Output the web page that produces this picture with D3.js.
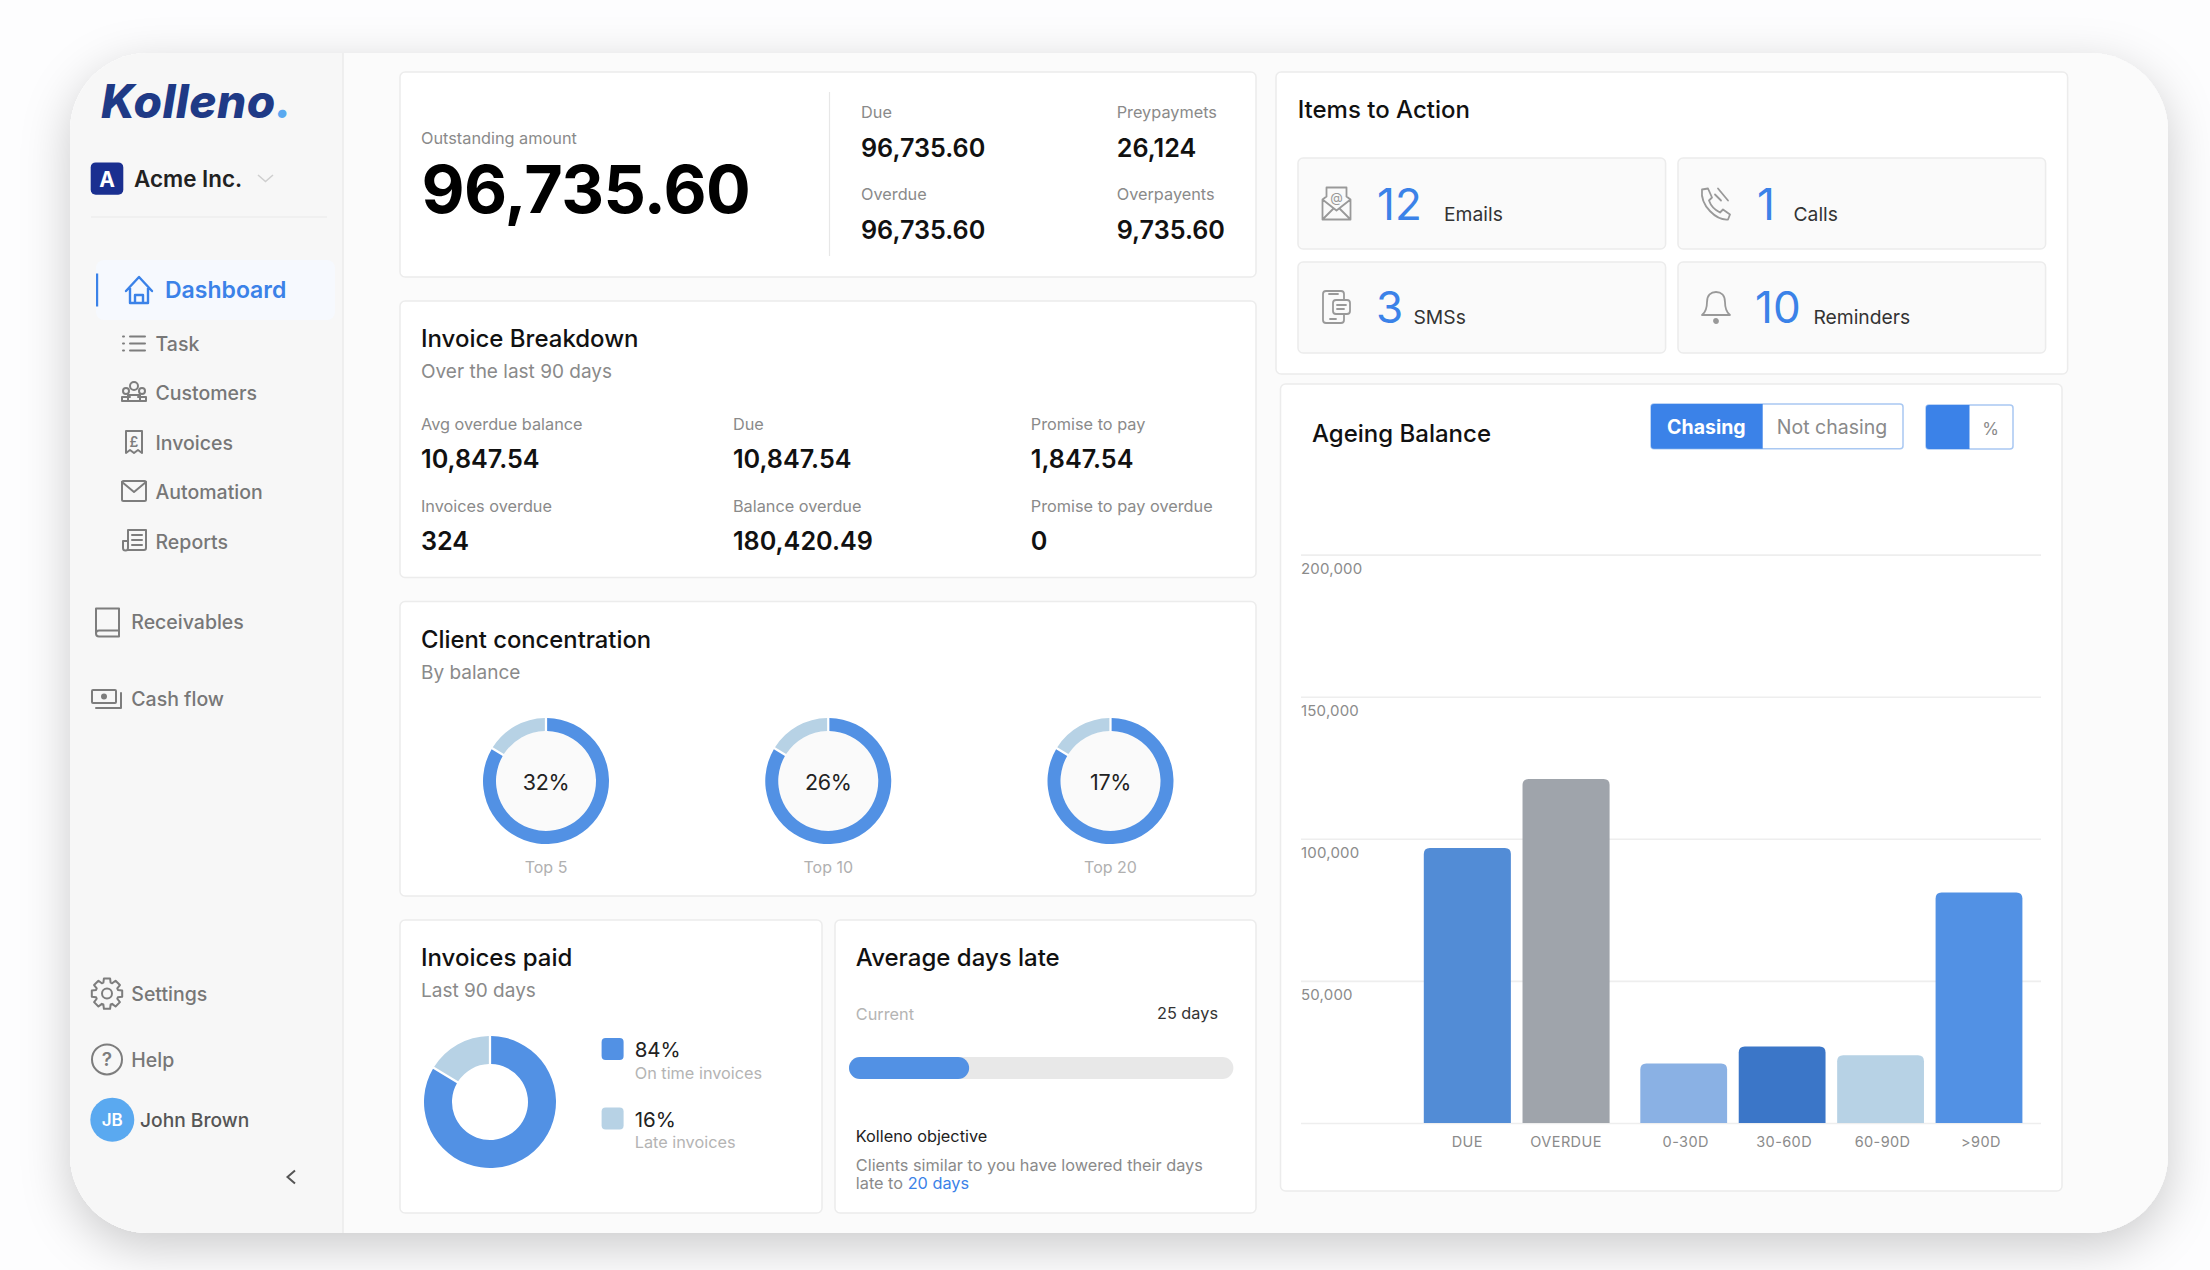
<!DOCTYPE html>
<html><head><meta charset="utf-8"><title>Kolleno dashboard</title>
<script src="https://cdnjs.cloudflare.com/ajax/libs/d3/7.8.5/d3.min.js"></script>
<style>html,body{margin:0;padding:0;background:#fdfdfe}svg{display:block}text{font-family:Inter,"Noto Sans",sans-serif}</style>
</head><body><div id="app"></div>
<script>
// ---------- data ----------
const ageingCategoriesA = ["DUE","OVERDUE"];
const ageingValuesA = [96735,121000];
const ageingCategoriesB = ["0-30D","30-60D","60-90D",">90D"];
const ageingValuesB = [20900,26900,23800,81100];
const ageingTicks = [0,50000,100000,150000,200000];
const navLabels = ["Task","Customers","Invoices","Automation","Reports"];
const concentrationLabels = ["Top 5","Top 10","Top 20"];
const concentrationTexts = ["32%","26%","17%"];
const ringShares = [84,16];
const paidShares = [84,16];
const paidLegendPct = ["84%","16%"];
const paidLegendText = ["On time invoices","Late invoices"];
const summaryLabels = ["Due","Preypaymets","Overdue","Overpayents"];
const summaryValues = ["96,735.60","26,124","96,735.60","9,735.60"];
const breakdownLabels = ["Avg overdue balance","Due","Promise to pay","Invoices overdue","Balance overdue","Promise to pay overdue"];
const breakdownValues = ["10,847.54","10,847.54","1,847.54","324","180,420.49","0"];
const actionCounts = ["12","1","3","10"];
const actionLabels = ["Emails","Calls","SMSs","Reminders"];
const daysLateCurrent = [25];
const daysLateMax = 80;

// ---------- palette ----------
const BLUE="#5291e4", LIGHT="#b7d2e5", ACC="#3b82e8", GREY="#8a8a8a", PALE="#b4b4b4", INK="#111";
const ageingColorsA=["#528cd6","#9fa4ab"], ageingColorsB=["#8ab1e4","#3b76c8","#b7d2e5","#5291e4"];

const svg=d3.select("#app").append("svg").attr("width",2210).attr("height",1270).attr("viewBox","0 0 2210 1270");
const defs=svg.append("defs");
const f=defs.append("filter").attr("id","sh").attr("x","-10%").attr("y","-10%").attr("width","120%").attr("height","125%");
f.append("feDropShadow").attr("dx",0).attr("dy",14).attr("stdDeviation",24).attr("flood-color","#000").attr("flood-opacity",.2);
const c=defs.append("clipPath").attr("id","shell");
c.append("rect").attr("x",70).attr("y",53).attr("width",2098).attr("height",1180).attr("rx",78);

function T(p,x,y,s,o={}){const t=p.append("text").attr("x",x).attr("y",y).text(s)
  .attr("font-size",o.size||16.3).attr("font-weight",o.weight||400).attr("fill",o.fill||GREY)
  .attr("text-anchor",o.anchor||"start");
  if(o.ls!==undefined)t.attr("letter-spacing",o.ls); if(o.style)t.attr("font-style",o.style); return t;}
function card(p,x,y,x2,y2,o={}){return p.append("rect").attr("x",x).attr("y",y).attr("width",x2-x).attr("height",y2-y)
  .attr("rx",o.r||5).attr("fill",o.fill||"#fff").attr("stroke",o.stroke||"#ececec").attr("stroke-width",1.5);}

// shell
svg.append("rect").attr("x",70).attr("y",53).attr("width",2098).attr("height",1180).attr("rx",78).attr("fill","#fbfbfb").attr("filter","url(#sh)");
const root=svg.append("g").attr("clip-path","url(#shell)");
root.append("rect").attr("x",70).attr("y",53).attr("width",2098).attr("height",1180).attr("fill","#fbfbfb");
root.append("rect").attr("x",70).attr("y",53).attr("width",273).attr("height",1180).attr("fill","#f7f7f7");
root.append("line").attr("x1",343).attr("x2",343).attr("y1",53).attr("y2",1233).attr("stroke","#ebebeb").attr("stroke-width",1.5);

// ---------- sidebar ----------
const side=svg.append("g");
const logo=T(side,101,117.5,"Kolleno",{size:46,weight:800,fill:"#1f3a86",style:"italic",ls:.4});
logo.append("tspan").text(".").attr("fill","#5aa9f0");
side.append("rect").attr("x",90.7).attr("y",162.4).attr("width",32.6).attr("height",32.3).attr("rx",5).attr("fill","#1a2f90");
T(side,107,186.5,"A",{size:21,weight:700,fill:"#fff",anchor:"middle"});
T(side,134,187,"Acme Inc.",{size:22.4,weight:600,fill:"#222"});
side.append("path").attr("d","M258,175 L265.5,181.5 L273,175").attr("fill","none").attr("stroke","#cfcfcf").attr("stroke-width",1.6);
side.append("line").attr("x1",91).attr("x2",327).attr("y1",217).attr("y2",217).attr("stroke","#e9e9e9").attr("stroke-width",1.2);
side.append("rect").attr("x",96).attr("y",260).attr("width",239).attr("height",60).attr("rx",8).attr("fill","#f6f9fe");
side.append("rect").attr("x",96).attr("y",273.5).attr("width",2.2).attr("height",33).attr("fill",ACC);
T(side,165,298,"Dashboard",{size:23,weight:600,fill:ACC});

const icon=(x,y,col="#7d7d7d",w=2)=>side.append("g").attr("transform",`translate(${x},${y})`).attr("fill","none").attr("stroke",col).attr("stroke-width",w).attr("stroke-linejoin","round").attr("stroke-linecap","round");
// house
let g=icon(139,290,ACC,2.4);
g.append("path").attr("d","M-13,1 L0,-13 L13,1 M-9,-2 V13 H9 V-2 M-4,13 V5 H4 V13");
// nav items
const navY=d3.scalePoint().domain(navLabels).range([351,548.8]);
navLabels.forEach(n=>T(side,155.5,navY(n),n,{size:19.5,weight:500,fill:"#777"}));
g=icon(134,343.6);
g.append("path").attr("d","M-4,-7 H11 M-4,0 H11 M-4,7 H11 M-11,-7 h1 M-11,0 h1 M-11,7 h1");
g=icon(134,392);
g.append("circle").attr("cy",-6).attr("r",4);g.append("circle").attr("cx",-8).attr("cy",-1).attr("r",3);g.append("circle").attr("cx",8).attr("cy",-1).attr("r",3);
g.append("path").attr("d","M-12,9 V5 H-4 M12,9 V5 H4 M-6,9 V3 H6 V9 M-12,9 H12");
g=icon(134,442);
g.append("path").attr("d","M-8,-11 H8 V11 L4,8 L0,11 L-4,8 L-8,11 Z");
T(g,0,5,"£",{size:14,weight:600,fill:"#7d7d7d",anchor:"middle"}).attr("stroke","none");
g=icon(134,491);
g.append("rect").attr("x",-12).attr("y",-10).attr("width",24).attr("height",20).attr("rx",1.5);
g.append("path").attr("d","M-12,-9 L0,1 L12,-9");
g=icon(134,540);
g.append("path").attr("d","M-6,10 H10 a2,2 0 0 0 2,-2 V-10 H-6 V8 a2.5,2.5 0 0 1 -5,0 V1 H-6 M-2,-5 H8 M-2,0 H8 M-2,5 H8");

T(side,131.3,629.4,"Receivables",{size:19.5,weight:500,fill:"#777"});
g=icon(107,622.5);
g.append("path").attr("d","M-11,11 V-14 H12 V14 H-8 a3,3 0 0 1 -3,-3 a3,3 0 0 1 3,-3 H12");
T(side,131.3,705.5,"Cash flow",{size:19.5,weight:500,fill:"#777"});
g=icon(107,699);
g.append("rect").attr("x",-15).attr("y",-9).attr("width",24).attr("height",13).attr("rx",1);
g.append("circle").attr("cx",-3).attr("cy",-2.5).attr("r",2).attr("fill","#7d7d7d");
g.append("path").attr("d","M-11,9 H14 V-6");
T(side,131.3,1000.8,"Settings",{size:19.5,weight:500,fill:"#777"});
g=icon(107,993.6);
const gear=d3.range(0,8).flatMap(i=>{const a=i*Math.PI/4,s=.2;return [[a-s*1.6,11.5],[a-s,15.5],[a+s,15.5],[a+s*1.6,11.5]];});
g.append("path").attr("d",d3.lineRadial().curve(d3.curveLinearClosed)(gear));
g.append("circle").attr("r",5);
T(side,131.3,1066.7,"Help",{size:19.5,weight:500,fill:"#777"});
g=icon(107,1059.4);
g.append("circle").attr("r",15);
T(g,0,7,"?",{size:19,weight:600,fill:"#7d7d7d",anchor:"middle"}).attr("stroke","none");
side.append("circle").attr("cx",112.3).attr("cy",1119.7).attr("r",22).attr("fill","#5aa9f0");
T(side,112.3,1126,"JB",{size:17,weight:600,fill:"#fff",anchor:"middle"});
T(side,140,1127,"John Brown",{size:19.2,weight:500,fill:"#555"});
side.append("path").attr("d","M295,1170.5 L287.5,1177 L295,1183.5").attr("fill","none").attr("stroke","#555").attr("stroke-width",2);

// ---------- top-left summary ----------
const m=svg.append("g");
card(m,400,72,1256,277);
T(m,421,144.2,"Outstanding amount",{});
T(m,421.4,212.5,"96,735.60",{size:66.4,weight:700,fill:"#000",ls:-.6});
m.append("line").attr("x1",829.5).attr("x2",829.5).attr("y1",92).attr("y2",256).attr("stroke","#e7e7e7").attr("stroke-width",1.2);
const sumX=[861,1116.7];
summaryLabels.forEach((l,i)=>{const x=sumX[i%2],r=Math.floor(i/2);
  T(m,x,r?200:118,l,{});
  T(m,x,r?238.7:156.7,summaryValues[i],{size:25.2,weight:600,fill:"#111"});});

// ---------- invoice breakdown ----------
card(m,400,301,1256,577.5);
T(m,421,346.5,"Invoice Breakdown",{size:24,weight:500,fill:INK});
T(m,421,377.8,"Over the last 90 days",{size:19});
const brX=[421,732.9,1030.8];
breakdownLabels.forEach((l,i)=>{const x=brX[i%3],r=Math.floor(i/3);
  T(m,x,r?512:430,l,{});
  T(m,x,r?550.4:468,breakdownValues[i],{size:25.2,weight:600,fill:"#111"});});

// ---------- client concentration ----------
card(m,400,601.5,1256,896);
T(m,421,647.5,"Client concentration",{size:23.8,weight:500,fill:INK});
T(m,421,678.5,"By balance",{size:19});
const conX=d3.scalePoint().domain(concentrationLabels).range([546,1110.5]);
const pie=d3.pie().sort(null).padAngle(.028);
const ringArc=d3.arc().innerRadius(50).outerRadius(63);
concentrationLabels.forEach((l,i)=>{
  const gg=m.append("g").attr("transform",`translate(${conX(l)},781)`);
  gg.append("circle").attr("r",50).attr("fill","#fafafa");
  gg.selectAll("path").data(pie(ringShares)).join("path").attr("d",ringArc).attr("fill",(d,j)=>j?LIGHT:BLUE);
  T(gg,0,8.5,concentrationTexts[i],{size:21.5,weight:400,fill:"#222",anchor:"middle",ls:-.4});
  T(gg,0,91.5,l,{size:16,fill:"#b0b0b0",anchor:"middle"});
});

// ---------- invoices paid ----------
card(m,400,920,822,1213);
T(m,421,965.5,"Invoices paid",{size:24,weight:500,fill:INK});
T(m,421,997,"Last 90 days",{size:19});
const paidG=m.append("g").attr("transform","translate(490,1102)");
const paidArc=d3.arc().innerRadius(38).outerRadius(66);
paidG.selectAll("path").data(d3.pie().sort(null).padAngle(.03)(paidShares)).join("path").attr("d",paidArc).attr("fill",(d,j)=>j?LIGHT:BLUE);
const legY=d3.scalePoint().domain(paidLegendText).range([1049,1118.5]);
paidLegendText.forEach((l,i)=>{const y=legY(l);
  m.append("rect").attr("x",601.6).attr("y",y-11).attr("width",22).attr("height",22).attr("rx",4).attr("fill",i?LIGHT:BLUE);
  T(m,634.7,y+8,paidLegendPct[i],{size:20.5,fill:"#222"});
  T(m,634.7,y+29.5,l,{fill:PALE});
});

// ---------- average days late ----------
card(m,835,920,1256,1213);
T(m,855.8,965.5,"Average days late",{size:24,weight:500,fill:INK});
T(m,855.8,1020,"Current",{fill:PALE});
T(m,1218,1018.6,daysLateCurrent[0]+" days",{fill:"#333",anchor:"end"});
const pX=d3.scaleLinear().domain([0,daysLateMax]).range([849,1233.4]);
m.append("rect").attr("x",pX(0)).attr("y",1057).attr("width",pX(daysLateMax)-pX(0)).attr("height",22).attr("rx",11).attr("fill","#e8e8e8");
m.selectAll(".pb").data(daysLateCurrent).join("rect").attr("class","pb").attr("x",pX(0)).attr("y",1057).attr("width",d=>pX(d)-pX(0)).attr("height",22).attr("rx",11).attr("fill",BLUE);
T(m,855.8,1142,"Kolleno objective",{fill:"#222"});
T(m,855.8,1171,"Clients similar to you have lowered their days",{fill:GREY});
const lt=T(m,855.8,1189,"late to ",{fill:GREY});
lt.append("tspan").text("20 days").attr("fill",ACC);

// ---------- items to action ----------
card(m,1276,72,2067.6,374);
T(m,1297.7,117.7,"Items to Action",{size:24,weight:500,fill:INK});
const boxX=[1298,1678],boxY=[158,262];
const numX=[1377,1757,1376,1755],lblX=[1444,1793.5,1413.5,1813.4];
actionCounts.forEach((n,i)=>{const bx=boxX[i%2],r=Math.floor(i/2),by=boxY[r];
  card(m,bx,by,bx+367.6,by+91,{fill:"#fafafa"});
  T(m,numX[i],by+62-r,n,{size:44,weight:400,fill:ACC});
  T(m,lblX[i],by+62.5-r,actionLabels[i],{size:19.3,fill:"#333"});
});
const ic=(x,y)=>m.append("g").attr("transform",`translate(${x},${y})`).attr("fill","none").attr("stroke","#999").attr("stroke-width",1.8).attr("stroke-linejoin","round").attr("stroke-linecap","round");
g=ic(1336.5,203.5);
g.append("path").attr("d","M-14,-4 L-10,-7 V-16 H10 V-7 L14,-4 V16 H-14 Z M-14,-4 L0,7 L14,-4 M-14,16 L-3,5 M14,16 L3,5");
T(g,0,-2,"@",{size:13,fill:"#999",anchor:"middle"}).attr("stroke","none");
g=ic(1715,203.5);
g.append("path").attr("d","M-13,-14 L-7,-15 L-3,-6 L-6,-3 C-4,3 1,7 5,9 L8,6 L15,11 L13,16 C2,17 -15,3 -13,-14 Z M3,-15 L13,-3 M0,-9 L6,-3");
g=ic(1336,307);
g.append("rect").attr("x",-13).attr("y",-16).attr("width",21).attr("height",32).attr("rx",3);
g.append("rect").attr("x",-3).attr("y",-7).attr("width",17).attr("height",14).attr("rx",3).attr("fill","#fafafa");
g.append("path").attr("d","M1,-2 H10 M1,2 H8 M-7,-13 H2 M-6,12 H0");
g=ic(1716,307);
g.append("path").attr("d","M-14,8 C-10,5 -9,1 -9,-5 C-9,-12 -5,-15 0,-15 C5,-15 9,-12 9,-5 C9,1 10,5 14,8 Z");
g.append("circle").attr("cy",14).attr("r",2).attr("fill","#999");

// ---------- ageing balance ----------
card(m,1280.5,384,2062,1191);
T(m,1312,441.7,"Ageing Balance",{size:24,weight:500,fill:INK});
m.append("rect").attr("x",1651).attr("y",404).attr("width",252).attr("height",44.7).attr("rx",3).attr("fill","#fff").attr("stroke","#a9c8f2").attr("stroke-width",1.5);
m.append("path").attr("d","M1654,404 H1762.7 V448.7 H1654 a3,3 0 0 1 -3,-3 V407 a3,3 0 0 1 3,-3 Z").attr("fill",ACC);
T(m,1706.4,434,"Chasing",{size:19.5,weight:700,fill:"#fff",anchor:"middle"});
T(m,1832,434,"Not chasing",{size:19.5,fill:GREY,anchor:"middle"});
m.append("rect").attr("x",1926).attr("y",405).attr("width",87).attr("height",44).attr("rx",3).attr("fill","#fff").attr("stroke","#a9c8f2").attr("stroke-width",1.5);
m.append("path").attr("d","M1929,405 H1969.5 V449 H1929 a3,3 0 0 1 -3,-3 V408 a3,3 0 0 1 3,-3 Z").attr("fill",ACC);
T(m,1990.7,434.5,"%",{size:17,fill:GREY,anchor:"middle"});

const y=d3.scaleLinear().domain([0,200000]).range([1123,554.6]);
const xA=d3.scaleBand().domain(ageingCategoriesA).range([1423.8,1609.6]).paddingInner(.118);
const xB=d3.scaleBand().domain(ageingCategoriesB).range([1640.3,2022.4]).paddingInner(.118);
const fmt=d3.format(",");
const yAxis=m.append("g").attr("transform","translate(1301,0)")
  .call(d3.axisLeft(y).tickValues(ageingTicks).tickSize(-740).tickFormat(d=>d?fmt(d):""));
yAxis.select(".domain").remove();
yAxis.selectAll(".tick line").attr("stroke","#eeeeee").attr("stroke-width",1.6);
yAxis.selectAll(".tick text").attr("x",0).attr("dy",0).attr("y",19).attr("text-anchor","start").attr("font-size",15).attr("letter-spacing",.2).attr("fill","#8b8b8b").attr("font-family","Inter");
function barPath(x,t,w,b){const r=6;return `M${x},${b}V${t+r}Q${x},${t} ${x+r},${t}H${x+w-r}Q${x+w},${t} ${x+w},${t+r}V${b}Z`;}
function drawBars(cat,val,col,sc){
  m.append("g").selectAll("path").data(cat).join("path")
    .attr("d",(d,i)=>barPath(sc(d),y(val[i]),sc.bandwidth(),y(0))).attr("fill",(d,i)=>col[i]);
}
drawBars(ageingCategoriesA,ageingValuesA,ageingColorsA,xA);
drawBars(ageingCategoriesB,ageingValuesB,ageingColorsB,xB);
function xAxisDraw(sc,dx){
  const a=m.append("g").attr("transform",`translate(${dx},1123)`).call(d3.axisBottom(sc).tickSize(0).tickPadding(0));
  a.select(".domain").remove();
  a.selectAll("text").attr("y",24).attr("dy",0).attr("font-size",14.5).attr("letter-spacing",.4).attr("fill","#8b8b8b").attr("font-family","Inter");
}
xAxisDraw(xA,0);
xAxisDraw(xB,2);
</script></body></html>
